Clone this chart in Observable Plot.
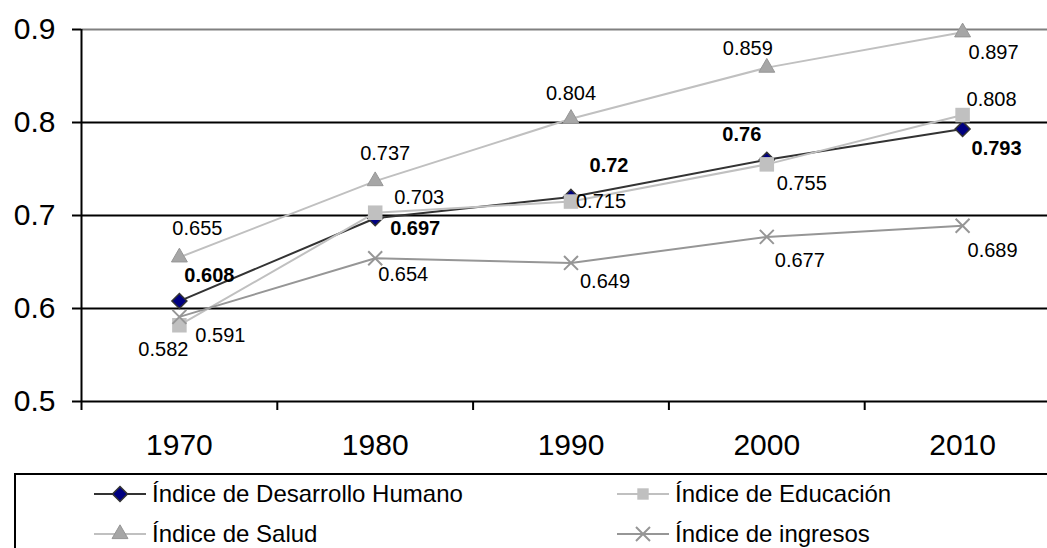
<!DOCTYPE html>
<html>
<head>
<meta charset="utf-8">
<script src="https://cdn.jsdelivr.net/npm/d3@7"></script>
<script src="https://cdn.jsdelivr.net/npm/@observablehq/plot@0.6"></script>
<style>
  html, body { margin: 0; padding: 0; background: #fff; }
  body { width: 1047px; height: 548px; overflow: hidden; position: relative; font-family: Arial, "Liberation Sans", sans-serif; color: #000; }
  #legend { position: absolute; left: 14px; top: 473px; width: 1100px; height: 120px; border: 2px solid #000; box-sizing: border-box; }
  .item { position: absolute; height: 30px; display: flex; align-items: center; font-size: 24px; white-space: nowrap; }
  .item svg { display: block; margin-right: 6px; }
</style>
</head>
<body>
<div id="chart"></div>
<div id="legend"></div>
<script>
// ---- data ----
const years = [1970, 1980, 1990, 2000, 2010];
const idh = [0.608, 0.697, 0.72, 0.76, 0.793];
const educacion = [0.582, 0.703, 0.715, 0.755, 0.808];
const salud = [0.655, 0.737, 0.804, 0.859, 0.897];
const ingresos = [0.591, 0.654, 0.649, 0.677, 0.689];
const seriesNames = ["Índice de Desarrollo Humano", "Índice de Educación", "Índice de Salud", "Índice de ingresos"];
const yTicks = [0.5, 0.6, 0.7, 0.8, 0.9];
const xBoundaries = [1965, 1975, 1985, 1995, 2005, 2015];

// ---- label placement (style, pixel offsets from each point) ----
const offIdh = [[30, -25], [40, 10], [38, -31], [-25, -25], [34, 20]];
const offEdu = [[-16, 24], [44, -15], [30, 0], [35, 19], [29, -15]];
const offSalud = [[18, -29], [10, -27], [0, -25], [-19, -19], [31, 20]];
const offIng = [[41, 19], [28, 16], [34, 19], [33, 24], [30, 25]];

const FONT = 'Arial, "Liberation Sans", sans-serif';

const series = [
  {name: seriesNames[0], values: idh, offs: offIdh, line: "#333333", lw: 2,
   dot: {symbol: "diamond2", r: 6.75, fill: "#000080", stroke: "#333333", strokeWidth: 1.5}, bold: true,
   sym: d3.symbolDiamond2, size: 143, lf: "#000080", ls: "#333333", lsw: 1.5},
  {name: seriesNames[1], values: educacion, offs: offEdu, line: "#c0c0c0", lw: 2,
   dot: {symbol: "square", r: 8.2, fill: "#c0c0c0", stroke: "none"}, bold: false,
   sym: d3.symbolSquare, size: 130, lf: "#c0c0c0", ls: "none", lsw: 0},
  {name: seriesNames[2], values: salud, offs: offSalud, line: "#c0c0c0", lw: 2,
   dot: {symbol: "triangle", r: 5.9, fill: "#a6a6a6", stroke: "#969696", strokeWidth: 1}, bold: false,
   sym: d3.symbolTriangle, size: 110, lf: "#a6a6a6", ls: "#969696", lsw: 1},
  {name: seriesNames[3], values: ingresos, offs: offIng, line: "#969696", lw: 2,
   dot: {symbol: "times", r: 6.4, fill: "none", stroke: "#969696", strokeWidth: 2}, bold: false,
   sym: d3.symbolTimes, size: 130, lf: "none", ls: "#969696", lsw: 2}
];

const marks = [
  Plot.ruleY([0.6, 0.7, 0.8], {stroke: "#000", strokeWidth: 2}),
  Plot.ruleY([0.9], {stroke: "#808080", strokeWidth: 2}),
  Plot.ruleY([0.5], {stroke: "#000", strokeWidth: 2}),
  Plot.ruleX([1965], {y1: 0.5, y2: 0.9, stroke: "#000", strokeWidth: 2}),
  Plot.axisY({ticks: yTicks, label: null, tickSize: 9, tickPadding: 17, fontSize: 30, fontFamily: FONT, tickFormat: d3.format(".1f"), stroke: "#000", strokeWidth: 2}),
  Plot.axisX({ticks: xBoundaries, label: null, tickSize: 9, tickFormat: () => "", stroke: "#000", strokeWidth: 2}),
  Plot.axisX({ticks: years, label: null, tickSize: 0, tickPadding: 32, fontSize: 30, fontFamily: FONT, tickFormat: d => String(d)})
];

for (const s of series) {
  const data = years.map((year, i) => ({year, value: s.values[i]}));
  marks.push(Plot.line(data, {x: "year", y: "value", stroke: s.line, strokeWidth: s.lw}));
  marks.push(Plot.dot(data, {x: "year", y: "value", ...s.dot}));
}
for (const s of series) {
  years.forEach((year, i) => {
    const [dx, dy] = s.offs[i];
    marks.push(Plot.text([{year, value: s.values[i]}], {
      x: "year", y: "value", text: d => String(d.value), dx, dy,
      fontSize: 20, fontFamily: FONT, fontWeight: s.bold ? "bold" : "normal", fill: "#000"
    }));
  });
}

const chart = Plot.plot({
  width: 1047,
  height: 474,
  marginLeft: 81,
  marginRight: 0,
  marginTop: 29,
  marginBottom: 73,
  x: {type: "linear", domain: [1965, 2015], range: [81, 1060], label: null},
  y: {domain: [0.5, 0.9], label: null},
  style: {fontFamily: FONT, background: "#fff", color: "#000", overflow: "visible"},
  marks
});
document.getElementById("chart").appendChild(chart);

// ---- legend ----
const legend = document.getElementById("legend");
const legendPos = [[78, 4], [601, 4], [78, 44], [601, 44]];
const order = [0, 1, 2, 3];
order.forEach((si, k) => {
  const s = series[si];
  const [left, top] = legendPos[k];
  const path = d3.symbol(s.sym, s.size)();
  const item = document.createElement("div");
  item.className = "item";
  item.style.left = left + "px";
  item.style.top = top + "px";
  item.innerHTML =
    `<svg width="52" height="24" viewBox="0 0 52 24">
      <line x1="0" x2="52" y1="12" y2="12" stroke="${s.line}" stroke-width="2"/>
      <path d="${path}" transform="translate(26,12)" fill="${s.lf}" stroke="${s.ls}" stroke-width="${s.lsw}"/>
    </svg><span>${s.name}</span>`;
  legend.appendChild(item);
});
</script>
</body>
</html>
